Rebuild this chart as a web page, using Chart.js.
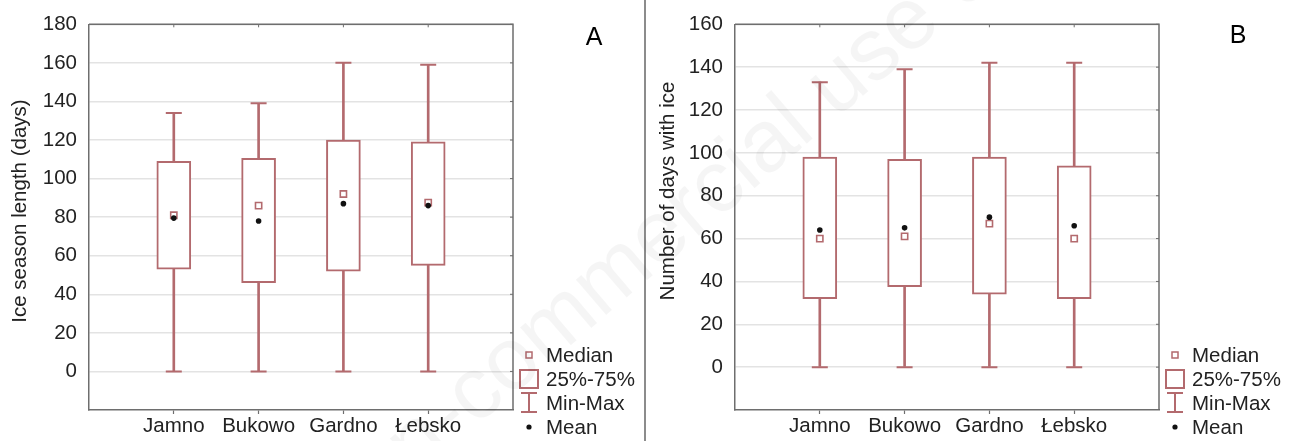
<!DOCTYPE html>
<html>
<head>
<meta charset="utf-8">
<script src="https://cdn.jsdelivr.net/npm/chart.js@4.4.1/dist/chart.umd.min.js"></script>
<style>
  html, body { margin: 0; padding: 0; background: #fff; }
  #wrap { position: relative; width: 1290px; height: 441px; overflow: hidden; background: #fff; }
  #wrap canvas { position: absolute; top: 0; }
  #cA { left: 0; }
  #cB { left: 645px; }
  #sep { position: absolute; left: 644px; top: 0; width: 2px; height: 441px; background: #8c8c8c; }
  #wm { left: 0; pointer-events: none; }
</style>
</head>
<body>
<div id="wrap">
  <canvas id="cA" width="645" height="441"></canvas>
  <canvas id="cB" width="645" height="441"></canvas>
  <div id="sep"></div>
  <canvas id="wm" width="1290" height="441"></canvas>
</div>
<script>
// Lakes on the x axis
const lakes = ['Jamno', 'Bukowo', 'Gardno', 'Łebsko'];

// Panel A: ice season length (days)
const seasonMin    = [0, 0, 0, 0];
const seasonQ1     = [53, 46, 52, 55];
const seasonMedian = [81, 86, 92, 87.5];
const seasonMean   = [79.5, 78, 87, 86];
const seasonQ3     = [109, 110.5, 120, 119];
const seasonMax    = [134, 139, 160, 159];
const seasonTicks  = [0, 20, 40, 60, 80, 100, 120, 140, 160, 180];

// Panel B: number of days with ice
const iceMin    = [0, 0, 0, 0];
const iceQ1     = [32, 37.5, 34, 32];
const iceMedian = [60, 61, 67, 60];
const iceMean   = [64, 65, 70, 66];
const iceQ3     = [98, 97, 98, 94];
const iceMax    = [133, 139, 142, 142];
const iceTicks  = [0, 20, 40, 60, 80, 100, 120, 140, 160];

const FONT = "'Liberation Sans', Arial, sans-serif";
const FS = 20.5;
const BOX = '#b36a6e';
const FRAME = '#6e6e6e';
const TEXT = '#222';

// Draws the top/right frame, inner ticks, axis title, legend and panel letter
const panelDecor = {
  id: 'panelDecor',
  afterDraw(chart, args, opts) {
    const { ctx, chartArea: a, scales: { x, y } } = chart;
    ctx.save();
    ctx.strokeStyle = FRAME;
    ctx.lineWidth = 1.5;
    ctx.beginPath();
    ctx.moveTo(a.left, a.top);
    ctx.lineTo(a.right, a.top);
    ctx.lineTo(a.right, a.bottom);
    ctx.stroke();

    ctx.lineWidth = 1;
    ctx.beginPath();
    x.ticks.forEach(t => {
      const px = x.getPixelForValue(t.value);
      ctx.moveTo(px, a.top); ctx.lineTo(px, a.top + 3);
    });
    y.ticks.forEach(t => {
      const py = y.getPixelForValue(t.value);
      ctx.moveTo(a.right - 3, py); ctx.lineTo(a.right, py);
    });
    ctx.stroke();

    // rotated y-axis title
    ctx.fillStyle = TEXT;
    ctx.font = FS + 'px ' + FONT;
    ctx.save();
    ctx.translate(opts.titleX, opts.titleY);
    ctx.rotate(-Math.PI / 2);
    ctx.textAlign = 'center';
    ctx.textBaseline = 'middle';
    ctx.fillText(opts.title, 0, 0);
    ctx.restore();

    // legend
    const sx = a.right + 16, tx = a.right + 33;
    const rows = [a.bottom - 55, a.bottom - 31, a.bottom - 7, a.bottom + 17];
    ctx.textAlign = 'left';
    ctx.textBaseline = 'middle';
    ctx.fillStyle = TEXT;
    ['Median', '25%-75%', 'Min-Max', 'Mean'].forEach((s, i) => ctx.fillText(s, tx, rows[i] + 1));

    ctx.strokeStyle = BOX;
    ctx.lineWidth = 1.5;
    ctx.strokeRect(sx - 3, rows[0] - 3, 6, 6);
    ctx.lineWidth = 2;
    ctx.strokeRect(sx - 9, rows[1] - 9, 18, 18);
    ctx.beginPath();
    ctx.moveTo(sx - 8, rows[2] - 10); ctx.lineTo(sx + 8, rows[2] - 10);
    ctx.moveTo(sx, rows[2] - 10); ctx.lineTo(sx, rows[2] + 9);
    ctx.moveTo(sx - 8, rows[2] + 9); ctx.lineTo(sx + 8, rows[2] + 9);
    ctx.stroke();
    ctx.fillStyle = '#111';
    ctx.beginPath();
    ctx.arc(sx, rows[3], 2.6, 0, Math.PI * 2);
    ctx.fill();

    // panel letter
    ctx.fillStyle = '#000';
    ctx.font = '25px ' + FONT;
    ctx.textAlign = 'center';
    ctx.textBaseline = 'middle';
    ctx.fillText(opts.letter, opts.letterX, opts.letterY);
    ctx.restore();
  }
};

function makePanel(id, d) {
  const pts = arr => arr.map((v, i) => ({ x: i + 1, y: v }));
  const span = (lo, hi) => lo.map((v, i) => ({ x: i + 1, y: [v, hi[i]] }));
  return new Chart(document.getElementById(id), {
    type: 'bar',
    data: {
      datasets: [
        { type: 'bar', label: 'Min-Max', data: span(d.min, d.max), backgroundColor: BOX,
          borderWidth: 0, barThickness: 2, grouped: false, order: 4 },
        { type: 'scatter', label: 'caps', data: pts(d.min).concat(pts(d.max)), pointStyle: 'line',
          radius: 8, borderColor: BOX, borderWidth: 2, order: 3 },
        { type: 'bar', label: '25%-75%', data: span(d.q1, d.q3), backgroundColor: '#fff',
          borderColor: BOX, borderWidth: 2, borderSkipped: false, barThickness: 34, grouped: false, order: 2 },
        { type: 'scatter', label: 'Median', data: pts(d.median), pointStyle: 'rect', radius: 4.4,
          backgroundColor: '#fff', borderColor: BOX, borderWidth: 1.6, order: 1 },
        { type: 'scatter', label: 'Mean', data: pts(d.mean), pointStyle: 'circle', radius: 2.8,
          backgroundColor: '#111', borderColor: '#111', borderWidth: 0, order: 0 }
      ]
    },
    options: {
      responsive: false,
      animation: false,
      events: [],
      layout: { padding: { top: 19, right: d.padRight, left: 0, bottom: 0 } },
      plugins: {
        legend: { display: false },
        tooltip: { enabled: false },
        panelDecor: d.decor
      },
      scales: {
        x: {
          type: 'linear', min: 0, max: 5, offset: false,
          afterBuildTicks: s => { s.ticks = lakes.map((_, i) => ({ value: i + 1 })); },
          afterFit: s => { s.height = 31; },
          ticks: { callback: v => lakes[v - 1], font: { family: FONT, size: FS }, color: TEXT,
                   padding: 0, maxRotation: 0, autoSkip: false },
          grid: { offset: false, drawOnChartArea: false, drawTicks: true, tickLength: 4, tickColor: FRAME, tickWidth: 1.2 },
          border: { color: FRAME, width: 1.5 }
        },
        y: {
          min: -20, max: d.yMax,
          afterBuildTicks: s => { s.ticks = d.ticks.map(v => ({ value: v })); },
          afterFit: s => { s.width = d.axisW; },
          ticks: { font: { family: FONT, size: FS }, color: TEXT, padding: 12 },
          grid: { color: '#e3e3e3', lineWidth: 1.5, drawTicks: false },
          border: { color: FRAME, width: 1.5 }
        }
      }
    },
    plugins: [panelDecor]
  });
}

makePanel('cA', {
  min: seasonMin, q1: seasonQ1, median: seasonMedian, mean: seasonMean, q3: seasonQ3, max: seasonMax,
  ticks: seasonTicks, yMax: 180, axisW: 89, padRight: 132,
  decor: { title: 'Ice season length (days)', titleX: 20, titleY: 211, letter: 'A', letterX: 594, letterY: 38 }
});

makePanel('cB', {
  min: iceMin, q1: iceQ1, median: iceMedian, mean: iceMean, q3: iceQ3, max: iceMax,
  ticks: iceTicks, yMax: 160, axisW: 90, padRight: 131,
  decor: { title: 'Number of days with ice', titleX: 23, titleY: 191, letter: 'B', letterX: 593, letterY: 36 }
});

// faint diagonal watermark across the page
(function () {
  const c = document.getElementById('wm');
  const ctx = c.getContext('2d');
  ctx.save();
  ctx.font = '88px ' + FONT;
  ctx.fillStyle = 'rgba(0,0,0,0.04)';
  const pre = ctx.measureText('Non-').width;
  ctx.translate(475, 427);
  ctx.rotate(-40.5 * Math.PI / 180);
  ctx.fillText('Non-commercial use only', -pre, 0);
  ctx.restore();
})();
</script>
</body>
</html>
